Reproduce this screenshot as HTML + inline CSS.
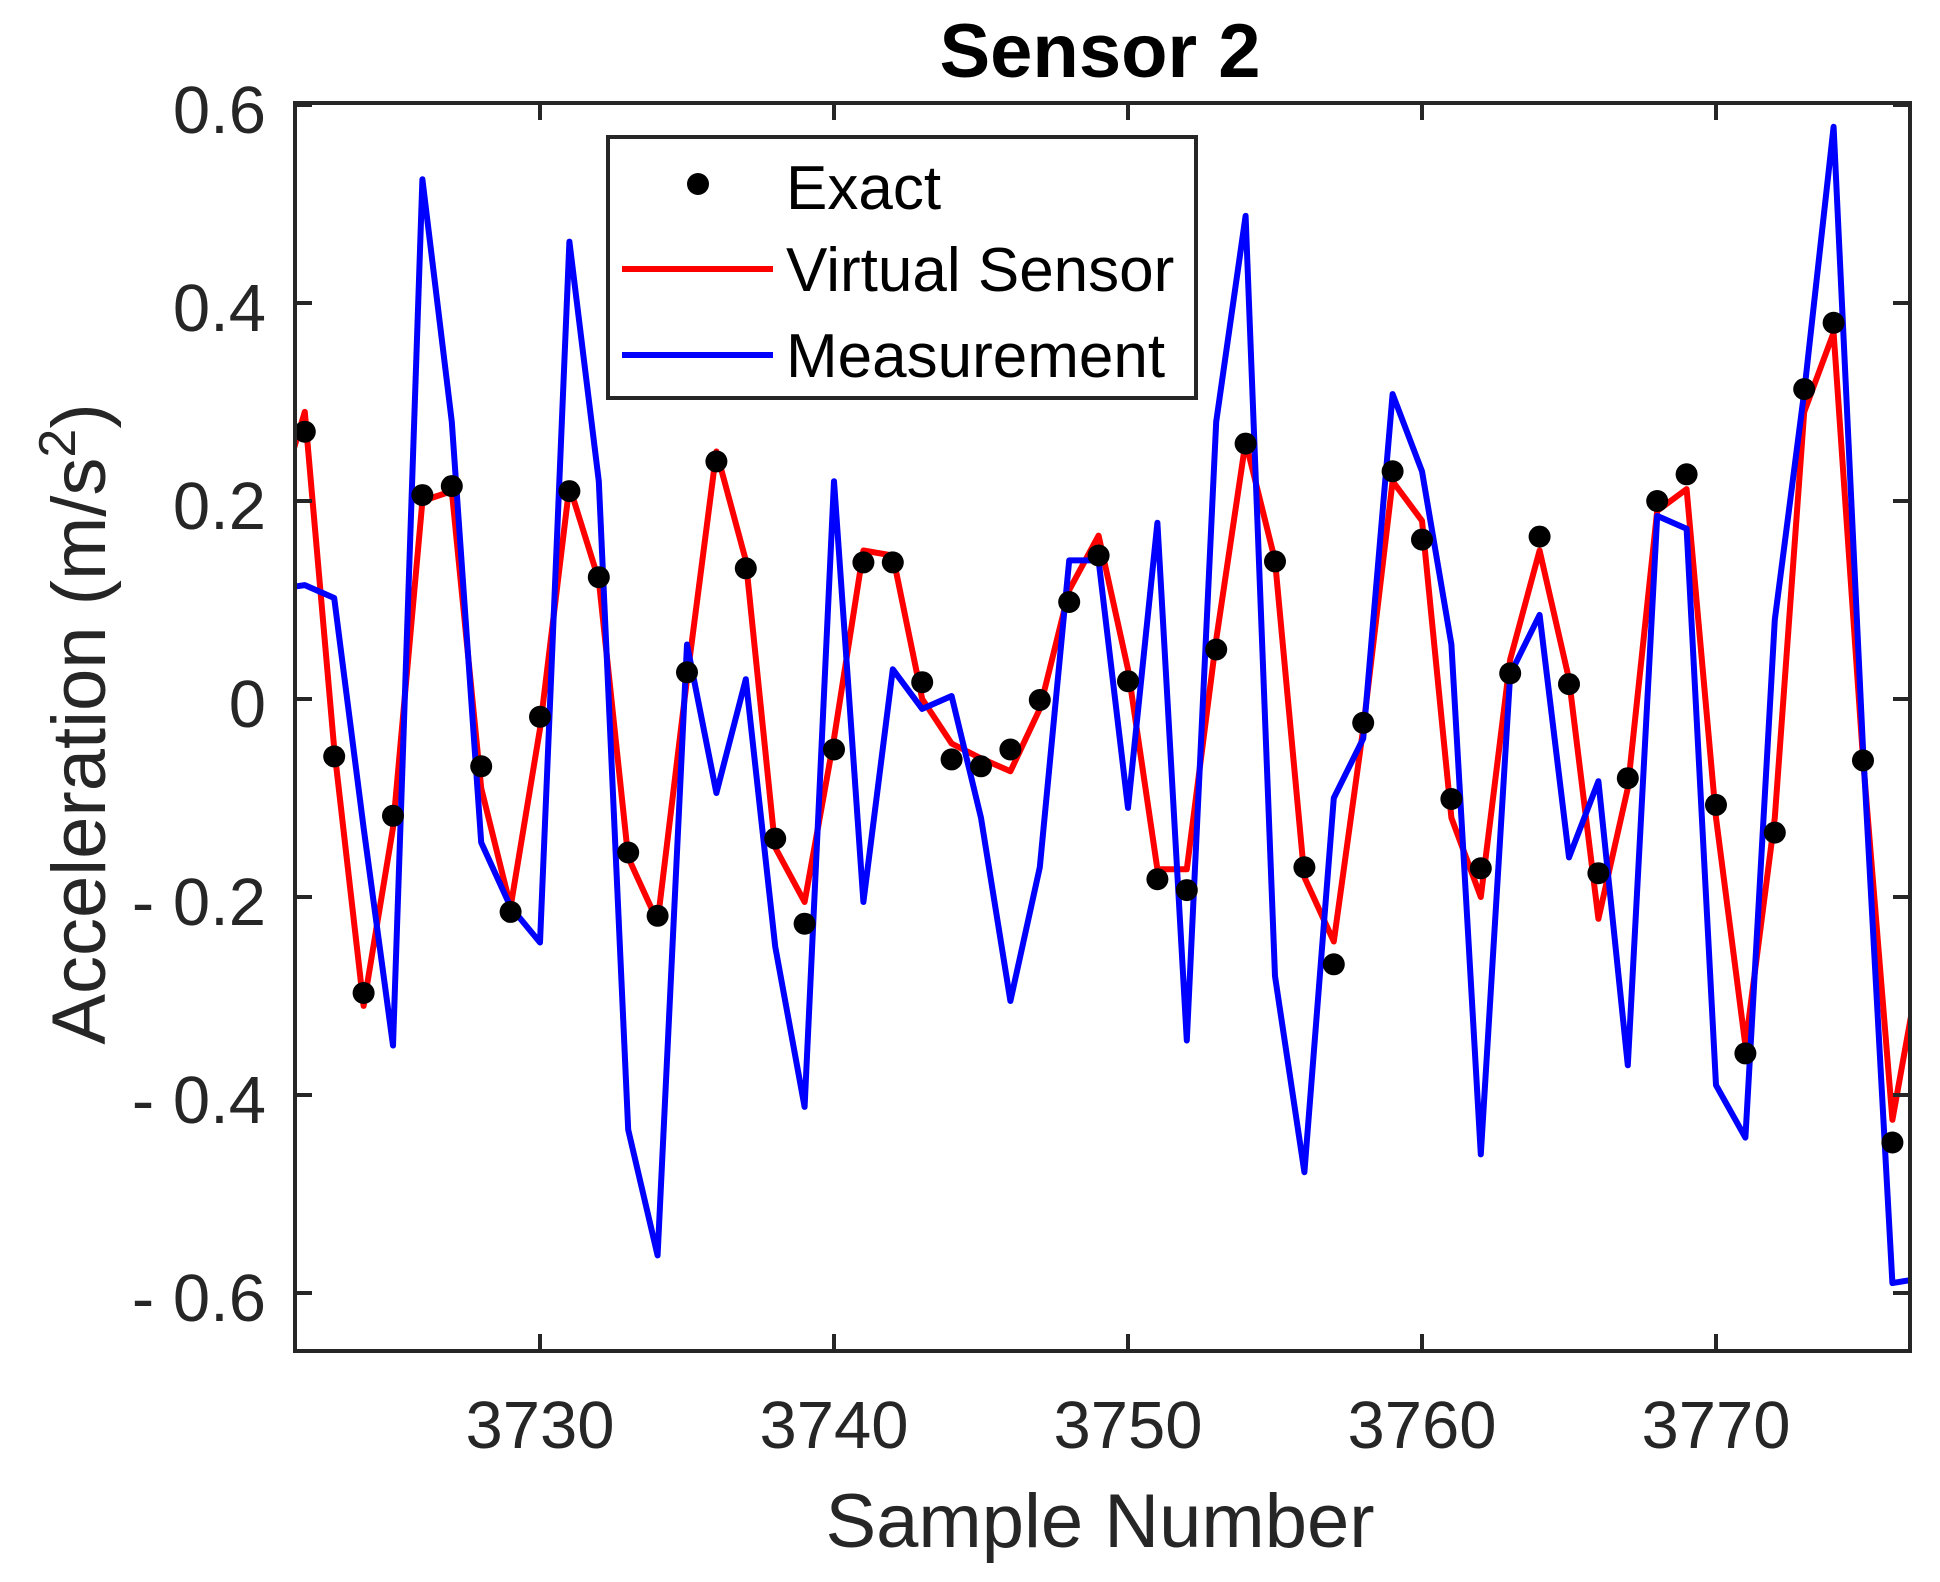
<!DOCTYPE html>
<html><head><meta charset="utf-8"><style>
html,body{margin:0;padding:0;background:#fff;}
svg{display:block;}
text{font-family:"Liberation Sans",Arial,sans-serif;}
</style></head><body>
<svg id="s" width="1940" height="1582" viewBox="0 0 1940 1582" xmlns="http://www.w3.org/2000/svg">
<rect width="1940" height="1582" fill="#fff"/>
<defs><clipPath id="c"><rect x="295" y="103" width="1615" height="1248"/></clipPath></defs>
<g id="data" clip-path="url(#c)"></g>
<g id="axes" stroke="#262626" stroke-width="4" fill="none"></g>
<g fill="#262626" font-size="67">
<text x="266" y="133" text-anchor="end">0.6</text>
<text x="266" y="331" text-anchor="end">0.4</text>
<text x="266" y="529" text-anchor="end">0.2</text>
<text x="266" y="727" text-anchor="end">0</text>
<text x="266" y="925" text-anchor="end">- 0.2</text>
<text x="266" y="1123" text-anchor="end">- 0.4</text>
<text x="266" y="1321" text-anchor="end">- 0.6</text>
<text x="540" y="1448" text-anchor="middle">3730</text>
<text x="834" y="1448" text-anchor="middle">3740</text>
<text x="1128" y="1448" text-anchor="middle">3750</text>
<text x="1422" y="1448" text-anchor="middle">3760</text>
<text x="1716" y="1448" text-anchor="middle">3770</text>
</g>
<text x="1100" y="1547" text-anchor="middle" font-size="76" fill="#262626">Sample Number</text>
<text transform="translate(105,724) rotate(-90)" text-anchor="middle" font-size="76" fill="#262626">Acceleration (m/s<tspan font-size="52" dy="-30">2</tspan><tspan dy="30">)</tspan></text>
<text x="1100" y="77" text-anchor="middle" font-size="76" font-weight="bold" fill="#000">Sensor 2</text>
<g>
<rect x="608" y="137" width="588" height="261" fill="#fff" stroke="#262626" stroke-width="4"/>
<circle cx="698" cy="184" r="11" fill="#000"/>
<line x1="622" y1="269" x2="773" y2="269" stroke="#f00" stroke-width="6"/>
<line x1="622" y1="355" x2="773" y2="355" stroke="#00f" stroke-width="6"/>
<g font-size="62" fill="#000">
<text x="786" y="209">Exact</text>
<text x="786" y="291">Virtual Sensor</text>
<text x="786" y="377">Measurement</text>
</g>
</g>
</svg>
<script>
(function(){
var X=function(n){return 540+(n-3730)*29.4;};
var Y=function(v){return 699-v*990;};
var ex=[0.27,-0.058,-0.297,-0.118,0.206,0.215,-0.068,-0.215,-0.018,0.21,0.123,-0.155,-0.219,0.027,0.24,0.132,-0.141,-0.227,-0.051,0.138,0.138,0.017,-0.061,-0.068,-0.051,-0.001,0.098,0.145,0.018,-0.182,-0.193,0.05,0.258,0.139,-0.17,-0.268,-0.024,0.23,0.161,-0.101,-0.171,0.026,0.164,0.015,-0.176,-0.08,0.2,0.227,-0.107,-0.358,-0.135,0.313,0.38,-0.062,-0.448];
var vs=[0.29,-0.05,-0.31,-0.13,0.2,0.21,-0.09,-0.21,-0.03,0.215,0.12,-0.16,-0.225,0.02,0.25,0.14,-0.15,-0.205,-0.04,0.15,0.145,0.0,-0.045,-0.06,-0.073,-0.01,0.11,0.165,0.03,-0.172,-0.172,0.06,0.26,0.14,-0.18,-0.245,-0.03,0.22,0.18,-0.12,-0.2,0.04,0.15,0.02,-0.222,-0.09,0.19,0.212,-0.12,-0.35,-0.12,0.29,0.37,-0.06,-0.425];
var ms=[0.115,0.102,-0.13,-0.35,0.525,0.28,-0.145,-0.21,-0.246,0.462,0.22,-0.435,-0.562,0.055,-0.095,0.02,-0.25,-0.412,0.22,-0.205,0.03,-0.01,0.003,-0.12,-0.305,-0.17,0.14,0.14,-0.11,0.178,-0.345,0.28,0.488,-0.28,-0.478,-0.1,-0.04,0.308,0.23,0.055,-0.46,0.025,0.085,-0.16,-0.083,-0.37,0.185,0.172,-0.39,-0.443,0.08,0.31,0.578,-0.05,-0.59];
function pts(a,s,e){var p=[[3721.3,s]];for(var i=0;i<a.length;i++)p.push([3722+i,a[i]]);p.push([3777,e]);return p.map(function(q){return X(q[0]).toFixed(1)+","+Y(q[1]).toFixed(1);}).join(" ");}
var h='';
h+='<polyline points="'+pts(vs,0.22,-0.26)+'" fill="none" stroke="#f00" stroke-width="6" stroke-linejoin="round"/>';
h+='<polyline points="'+pts(ms,0.112,-0.585)+'" fill="none" stroke="#00f" stroke-width="6" stroke-linejoin="round"/>';
for(var i=0;i<ex.length;i++)h+='<circle cx="'+X(3722+i).toFixed(1)+'" cy="'+Y(ex[i]).toFixed(1)+'" r="11" fill="#000"/>';
document.getElementById('data').innerHTML=h;
var a='<rect x="295" y="103" width="1615" height="1248"/>';
var yt=[0.6,0.4,0.2,0,-0.2,-0.4,-0.6];
yt.forEach(function(v){var y=Y(v);a+='<line x1="295" y1="'+y+'" x2="312" y2="'+y+'"/><line x1="1893" y1="'+y+'" x2="1910" y2="'+y+'"/>';});
[3730,3740,3750,3760,3770].forEach(function(n){var x=X(n);a+='<line x1="'+x+'" y1="1351" x2="'+x+'" y2="1334"/><line x1="'+x+'" y1="103" x2="'+x+'" y2="120"/>';});
document.getElementById('axes').innerHTML=a;
})();
</script>
</body></html>
